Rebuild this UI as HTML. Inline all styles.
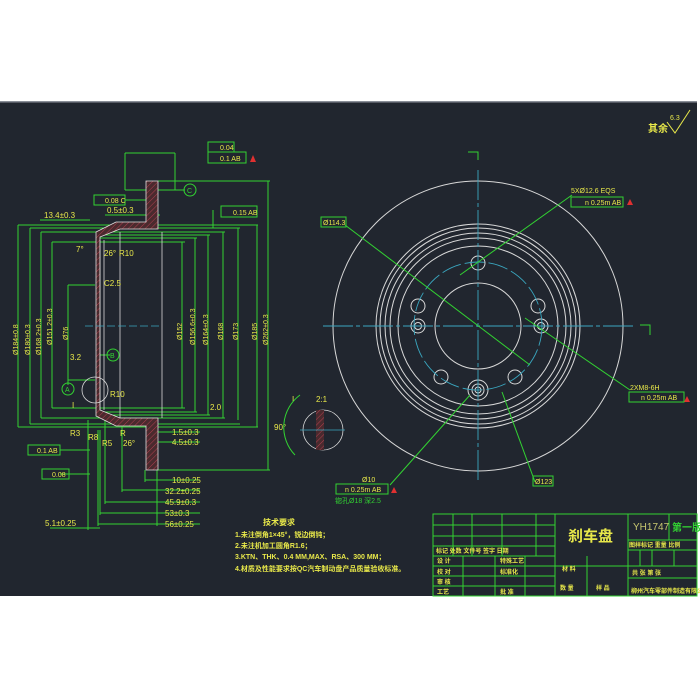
<!DOCTYPE html>
<html><head><meta charset="utf-8"><style>
html,body{margin:0;padding:0;background:#fff;width:700px;height:700px;overflow:hidden}
svg{display:block}
text{font-family:"Liberation Sans","Noto Sans CJK SC",sans-serif}
</style></head><body>
<svg width="700" height="700" viewBox="0 0 700 700" xmlns="http://www.w3.org/2000/svg">
<rect x="0" y="102" width="697" height="494" fill="#21262f"/>
<rect x="0" y="101" width="697" height="1.5" fill="#8a8f98"/>
<defs>
<pattern id="h" width="4" height="4" patternUnits="userSpaceOnUse" patternTransform="rotate(45)"><rect width="4" height="4" fill="#4a2a2e"/><line x1="0" y1="0" x2="0" y2="4" stroke="#b04050" stroke-width="1"/></pattern>
</defs>
<!-- LEFT VIEW -->
<g fill="none" stroke="#32d232" stroke-width="1">
<!-- vertical dimension lines left -->
<line x1="18" y1="225" x2="18" y2="427"/><line x1="30" y1="228" x2="30" y2="424"/><line x1="41" y1="232" x2="41" y2="418"/><line x1="52" y1="242" x2="52" y2="408"/><line x1="68" y1="285" x2="68" y2="380"/>
<line x1="182" y1="242" x2="182" y2="408"/><line x1="195" y1="238" x2="195" y2="412"/><line x1="208" y1="235" x2="208" y2="415"/><line x1="223" y1="232" x2="223" y2="418"/><line x1="238" y1="228" x2="238" y2="420"/><line x1="257" y1="225" x2="257" y2="427"/><line x1="268" y1="181" x2="268" y2="470"/>
<!-- horizontal extension lines -->
<line x1="18" y1="225" x2="258" y2="225"/><line x1="18" y1="427" x2="258" y2="427"/>
<line x1="30" y1="228" x2="240" y2="228"/><line x1="30" y1="424" x2="240" y2="424"/>
<line x1="41" y1="232" x2="225" y2="232"/><line x1="41" y1="418" x2="225" y2="418"/>
<line x1="52" y1="242" x2="185" y2="242"/><line x1="52" y1="408" x2="185" y2="408"/>
<line x1="100" y1="235" x2="210" y2="235"/><line x1="100" y1="415" x2="210" y2="415"/>
<line x1="100" y1="238" x2="197" y2="238"/><line x1="100" y1="412" x2="197" y2="412"/>
<line x1="68" y1="285" x2="95" y2="285"/><line x1="68" y1="380" x2="95" y2="380"/>
<line x1="158" y1="181" x2="270" y2="181"/><line x1="158" y1="470" x2="270" y2="470"/>
<!-- top tolerance leaders -->
<line x1="125" y1="153" x2="175" y2="153"/><line x1="125" y1="153" x2="125" y2="190"/><line x1="125" y1="190" x2="146" y2="190"/><line x1="175" y1="153" x2="175" y2="190"/><line x1="158" y1="190" x2="185" y2="190"/>
<line x1="125" y1="200" x2="146" y2="200"/>
<line x1="213" y1="210" x2="213" y2="228"/>
<line x1="40" y1="220" x2="90" y2="220"/><line x1="105" y1="215" x2="160" y2="215"/>
<!-- bottom dims -->
<line x1="145" y1="480" x2="200" y2="480"/><line x1="122" y1="490" x2="200" y2="490"/><line x1="105" y1="502" x2="200" y2="502"/><line x1="100" y1="513" x2="200" y2="513"/><line x1="98" y1="524" x2="200" y2="524"/><line x1="50" y1="528" x2="100" y2="528"/>
<line x1="145" y1="470" x2="145" y2="482"/><line x1="122" y1="420" x2="122" y2="492"/><line x1="105" y1="420" x2="105" y2="504"/><line x1="100" y1="430" x2="100" y2="515"/><line x1="98" y1="430" x2="98" y2="526"/><line x1="88" y1="420" x2="88" y2="530"/><line x1="157" y1="440" x2="157" y2="526"/>
<line x1="150" y1="432" x2="200" y2="432"/><line x1="150" y1="442" x2="200" y2="442"/>
<line x1="60" y1="450" x2="90" y2="450"/><line x1="60" y1="474" x2="90" y2="474"/>
<!-- leader A, B -->
<line x1="68" y1="370" x2="68" y2="385"/><line x1="96" y1="355" x2="110" y2="355"/>
<rect x="208" y="47" width="0" height="0"/>
</g>
<!-- hat profile -->
<path d="M146,181 h12 v48 h-38 l-20,8 v173 l20,8 h38 v52 h-12 v-44 h-30 l-20,-10 v-184 l20,-10 h30 z" fill="url(#h)" stroke="#e0e0e0" stroke-width="0.8"/>
<g stroke="#d8d8d8" stroke-width="0.8" fill="none">
<line x1="100" y1="240" x2="100" y2="410"/><line x1="104" y1="240" x2="104" y2="410"/><line x1="120" y1="232" x2="120" y2="418"/><line x1="162" y1="232" x2="162" y2="418"/>
<circle cx="95" cy="390" r="13"/>
</g>
<line x1="85" y1="326" x2="160" y2="326" stroke="#3aa7c0" stroke-dasharray="8,3" stroke-width="0.8"/>
<!-- left view texts -->
<g fill="#e8e84a" font-size="8">
<text x="44" y="218">13.4±0.3</text><text x="107" y="213">0.5±0.3</text>
<text x="76" y="252">7°</text><text x="104" y="256">26°</text><text x="119" y="256">R10</text><text x="104" y="286">C2.5</text>
<g font-size="7">
<text transform="translate(18,355) rotate(-90)">Ø184±0.8</text>
<text transform="translate(30,355) rotate(-90)">Ø180±0.3</text>
<text transform="translate(41,355) rotate(-90)">Ø168.2±0.3</text>
<text transform="translate(52,345) rotate(-90)">Ø151.2±0.3</text>
<text transform="translate(68,340) rotate(-90)">Ø76</text>
<text transform="translate(182,340) rotate(-90)">Ø152</text>
<text transform="translate(195,345) rotate(-90)">Ø156.6±0.3</text>
<text transform="translate(208,345) rotate(-90)">Ø164±0.3</text>
<text transform="translate(223,340) rotate(-90)">Ø168</text>
<text transform="translate(238,340) rotate(-90)">Ø173</text>
<text transform="translate(257,340) rotate(-90)">Ø185</text>
<text transform="translate(268,345) rotate(-90)">Ø262±0.3</text>
</g>
<text x="70" y="360">3.2</text><text x="72" y="408">I</text><text x="110" y="397">R10</text><text x="210" y="410">2.0</text>
<text x="70" y="436">R3</text><text x="88" y="440">R8</text><text x="102" y="446">R5</text><text x="120" y="436">R</text><text x="123" y="446">26°</text>
<text x="172" y="435">1.5±0.3</text><text x="172" y="445">4.5±0.3</text>
<text x="172" y="483">10±0.25</text><text x="165" y="494">32.2±0.25</text><text x="165" y="505">45.9±0.3</text><text x="165" y="516">53±0.3</text><text x="165" y="527">56±0.25</text>
<text x="45" y="526">5.1±0.25</text>
<text x="274" y="430">90°</text><text x="292" y="402">I</text><text x="292" y="403"> </text><text x="316" y="402">2:1</text>
</g>
<!-- tolerance boxes -->
<g fill="none" stroke="#32d232" stroke-width="1">
<rect x="208" y="142" width="26" height="10"/><rect x="208" y="152" width="38" height="11"/>
<rect x="94" y="195" width="31" height="10"/>
<rect x="221" y="206" width="36" height="11"/>
<rect x="28" y="445" width="32" height="10"/><rect x="42" y="469" width="27" height="10"/>
<circle cx="190" cy="190" r="6"/><circle cx="113" cy="355" r="6"/><circle cx="68" cy="389" r="6"/>
</g>
<g fill="#e8e84a" font-size="7">
<text x="220" y="150">0.04</text><text x="220" y="161">0.1 AB</text><text x="105" y="203">0.08 C</text><text x="233" y="215">0.15 AB</text>
<text x="37" y="453">0.1 AB</text><text x="52" y="477">0.08</text>
<text x="187" y="193" fill="#32d232">C</text><text x="110" y="358" fill="#32d232">B</text><text x="65" y="392" fill="#32d232">A</text>
</g>
<polygon points="250,162 253,155 256,162" fill="#e03030"/>
<!-- detail circle -->
<g fill="none" stroke="#32d232"><path d="M300,395 A40,40 0 0 0 295,455"/></g>
<g stroke="#d8d8d8" fill="none" stroke-width="0.8"><circle cx="323" cy="430" r="20"/></g>
<rect x="316" y="410" width="8" height="40" fill="url(#h)"/>
<line x1="300" y1="430" x2="345" y2="430" stroke="#3aa7c0" stroke-width="0.8"/>
<!-- RIGHT VIEW -->
<g fill="none" stroke="#d8d8d8" stroke-width="1">
<circle cx="478" cy="326" r="145"/><circle cx="478" cy="326" r="102"/><circle cx="478" cy="326" r="98"/><circle cx="478" cy="326" r="93"/><circle cx="478" cy="326" r="88"/><circle cx="478" cy="326" r="80"/>
<circle cx="478" cy="326" r="43"/>
<circle cx="478" cy="263" r="7"/><circle cx="418" cy="326" r="7"/><circle cx="418" cy="326" r="3.5"/><circle cx="541" cy="326" r="7"/><circle cx="541" cy="326" r="3.5"/>
<circle cx="478" cy="390" r="10"/><circle cx="478" cy="390" r="6"/><circle cx="478" cy="390" r="3"/>
<circle cx="418" cy="306" r="7"/><circle cx="538" cy="306" r="7"/><circle cx="441" cy="377" r="7"/><circle cx="515" cy="377" r="7"/>
</g>
<g fill="none" stroke="#3aa7c0" stroke-width="0.9">
<circle cx="478" cy="326" r="64" stroke-dasharray="20,4"/>
<line x1="323" y1="326" x2="635" y2="326" stroke-dasharray="30,3,4,3"/>
<line x1="478" y1="170" x2="478" y2="480" stroke-dasharray="30,3,4,3"/>
</g>
<g stroke="#32d232" fill="none" stroke-width="1">
<polyline points="468,152 478,152 478,160"/><polyline points="640,325 650,325 650,335"/>
<line x1="345" y1="225" x2="530" y2="365"/>
<line x1="460" y1="275" x2="572" y2="195"/>
<line x1="525" y1="318" x2="630" y2="390"/>
<line x1="470" y1="395" x2="390" y2="485"/>
<line x1="502" y1="392" x2="535" y2="482"/>
<rect x="321" y="217" width="25" height="10"/>
<rect x="571" y="197" width="52" height="10"/><rect x="629" y="392" width="55" height="10"/>
<rect x="336" y="484" width="52" height="10"/><rect x="533" y="476" width="20" height="10"/>
</g>
<g fill="#e8e84a" font-size="7">
<text x="323" y="225">Ø114.3</text>
<text x="571" y="193">5XØ12.6 EQS</text><text x="585" y="205">n 0.25m AB</text>
<text x="630" y="390">2XM8-6H</text><text x="641" y="400">n 0.25m AB</text>
<text x="362" y="482">Ø10</text><text x="345" y="492">n 0.25m AB</text><text x="335" y="503" fill="#32d232">锪孔Ø18 深2.5</text>
<text x="535" y="484">Ø123</text>
<text x="648" y="132" font-size="10" font-weight="bold">其余</text><text x="670" y="120">6.3</text>
</g>
<polyline points="667,122 675,133 690,110" fill="none" stroke="#e8e84a"/>
<polygon points="627,205 630,199 633,205" fill="#e03030"/><polygon points="684,402 687,396 690,402" fill="#e03030"/><polygon points="391,493 394,487 397,493" fill="#e03030"/>
<!-- tech requirements -->
<g fill="#e8e84a" font-size="7" font-weight="bold">
<text x="263" y="525" font-size="8">技术要求</text>
<text x="235" y="537">1.未注倒角1×45°，锐边倒钝；</text>
<text x="235" y="548">2.未注机加工圆角R1.6；</text>
<text x="235" y="559">3.KTN、THK、0.4 MM,MAX、RSA、300 MM；</text>
<text x="235" y="571">4.材质及性能要求按QC汽车制动盘产品质量验收标准。</text>
</g>
<!-- title block -->
<g stroke="#32d232" fill="none" stroke-width="1">
<rect x="433" y="514" width="264" height="82"/>
<line x1="433" y1="525" x2="555" y2="525"/><line x1="433" y1="536" x2="555" y2="536"/><line x1="433" y1="546" x2="555" y2="546"/><line x1="433" y1="556" x2="555" y2="556"/><line x1="433" y1="566" x2="628" y2="566"/><line x1="433" y1="576" x2="555" y2="576"/><line x1="433" y1="586" x2="555" y2="586"/>
<line x1="453" y1="514" x2="453" y2="556"/><line x1="472" y1="514" x2="472" y2="556"/><line x1="502" y1="514" x2="502" y2="556"/><line x1="536" y1="514" x2="536" y2="556"/>
<line x1="463" y1="556" x2="463" y2="596"/><line x1="495" y1="556" x2="495" y2="596"/><line x1="525" y1="556" x2="525" y2="596"/>
<line x1="555" y1="514" x2="555" y2="596"/><line x1="587" y1="556" x2="587" y2="596"/><line x1="628" y1="514" x2="628" y2="596"/><line x1="669" y1="514" x2="669" y2="540"/>
<line x1="628" y1="540" x2="697" y2="540"/><line x1="628" y1="550" x2="697" y2="550"/><line x1="628" y1="566" x2="697" y2="566"/><line x1="628" y1="578" x2="697" y2="578"/>
<line x1="640" y1="550" x2="640" y2="566"/><line x1="652" y1="550" x2="652" y2="566"/><line x1="674" y1="550" x2="674" y2="566"/>
</g>
<g fill="#e8e84a" font-size="6" font-weight="bold">
<text x="568" y="541" font-size="15">刹车盘</text>
<text x="633" y="530" font-size="10" font-weight="normal" fill="#c8c870">YH1747</text>
<text x="672" y="531" font-size="10" fill="#32d232">第一版</text>
<text x="436" y="553">标记 处数 文件号 签字 日期</text>
<text x="437" y="563">设 计</text><text x="500" y="563">特殊工艺</text>
<text x="437" y="574">校 对</text><text x="500" y="574">标准化</text>
<text x="437" y="584">审 核</text><text x="437" y="594">工艺</text><text x="500" y="594">批 准</text>
<text x="562" y="571">材 料</text><text x="560" y="590">数 量</text><text x="596" y="590">样 品</text>
<text x="629" y="547">图样标记 重量 比例</text><text x="632" y="575">共 张 第 张</text><text x="631" y="593">柳州汽车零部件制造有限公司</text>
</g>
</svg>
</body></html>
